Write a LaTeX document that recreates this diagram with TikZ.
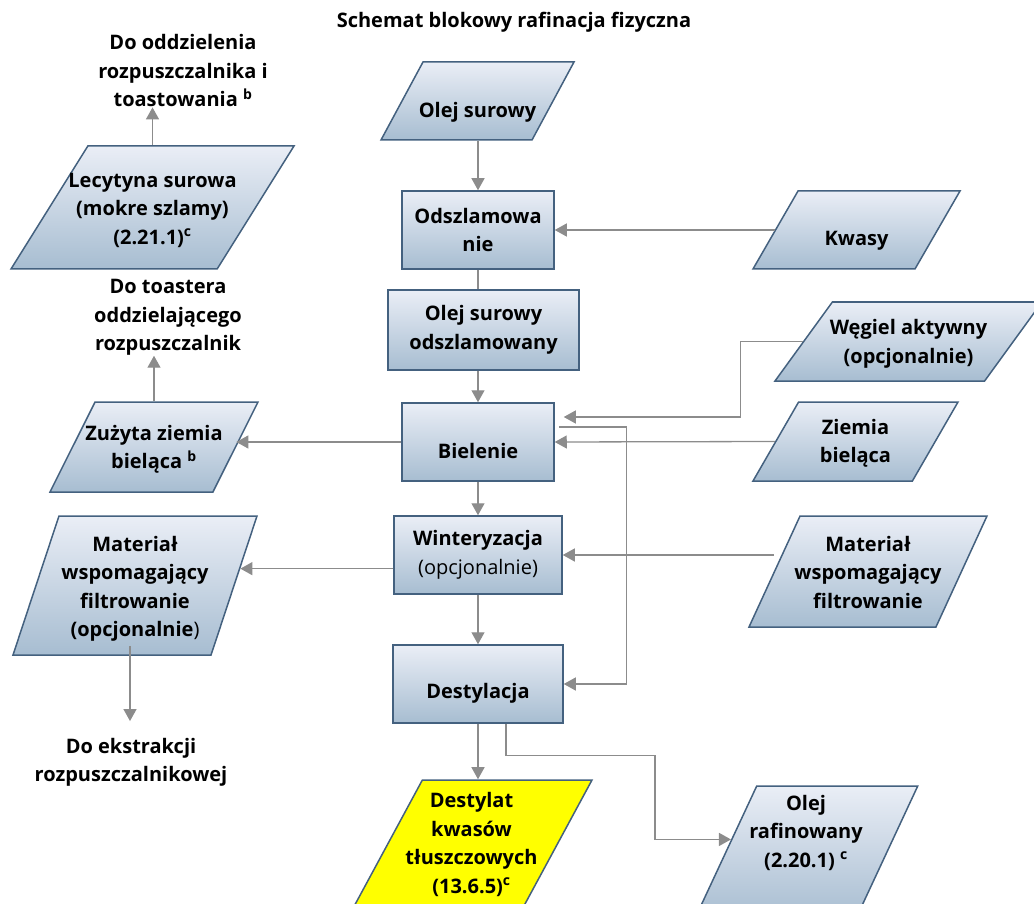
\documentclass[tikz,border=0pt]{standalone}
\usepackage{fontspec}
\setmainfont{Open Sans}
\usepackage{xcolor}
\usepackage{tikz}
\usetikzlibrary{arrows.meta,calc}
\usetikzlibrary{shapes.geometric}

\definecolor{boxTop}{HTML}{EAEEF6}
\definecolor{boxBottom}{HTML}{A7BDD1}
\definecolor{boxLine}{HTML}{44617F}
\definecolor{wire}{HTML}{8C8C8C}

\newcommand{\cellText}[1]{\makebox[0pt]{\begin{tabular}{@{}c@{}}#1\end{tabular}}}

\begin{document}
\begin{tikzpicture}[x=1pt,y=-1pt,
    font=\fontsize{20}{28.5}\selectfont\bfseries,
    box/.style={draw=boxLine,line width=1.5pt,top color=boxTop,bottom color=boxBottom,inner sep=0pt},
    proc/.style={box,rectangle,align=center,minimum width=#1,minimum height=78pt},
    para/.style n args={5}{box,trapezium,trapezium stretches body,trapezium left angle=#1,trapezium right angle=#2,minimum width=#3,
        text height=#4,text depth=#5},
    lbl/.style={align=center,inner sep=0pt},
    link/.style={draw=wire,line width=1.3pt},
    arrow/.style={link,-{Triangle[length=12pt,width=13pt]}}]
    \useasboundingbox (0,0) rectangle (1034,904);

    \node[lbl,font=\fontsize{20}{24}\selectfont\bfseries](title) at (514,22) {Schemat blokowy rafinacja fizyczna};

    % main line
    \node[para={61.7}{118.3}{193pt}{55pt}{23pt}](crudeOil) at (477.5,101) {\cellText{Olej surowy}};
    \node[proc=152pt](degumming) at (478,230) {Odszlamowa\\nie};
    \node[proc=191pt,minimum height=80pt](degummedOil) at (483.5,330) {Olej surowy\\odszlamowany};
    \node[proc=152pt](bleaching) at (478,442) {\raisebox{-9pt}[\height][\depth]{Bielenie}};
    \node[proc=168pt](winterization) at (478,555) {Winteryzacja\\{\mdseries (opcjonalnie)}};
    \node[proc=170pt](distillation) at (478,684) {\raisebox{-9pt}[\height][\depth]{Destylacja}};

    % inputs on the right
    \node[para={60}{120}{207pt}{54pt}{24pt}](acids) at (856.5,230) {\cellText{Kwasy}};
    \node[para={54}{126}{267pt}{46.5pt}{32.5pt}](activeCarbon) at (908.5,341.5) {\cellText{Węgiel aktywny\\(opcjonalnie)}};
    \node[para={60}{120}{205pt}{46pt}{33pt}](bleachEarth) at (855.5,441.5) {\cellText{Ziemia\\bieląca}};
    \node[para={65.3}{114.7}{238pt}{63pt}{48pt}](filterAidIn) at (868,571.5) {\cellText{Materiał\\wspomagający\\filtrowanie}};

    % by-products on the left
    \node[para={58}{122}{283pt}{69pt}{54pt}](crudeLecithin) at (152.5,207.5) {\cellText{Lecytyna surowa\\(mokre szlamy)\\(2.21.1)\textsuperscript{c}}};
    \node[para={63.4}{116.6}{208pt}{52pt}{38pt}](spentEarth) at (154,447) {\cellText{Zużyta ziemia\\bieląca \textsuperscript{b}}};
    \node[para={71.7}{108.3}{244pt}{77.5pt}{61.5pt}](filterAidOut) at (135,585.5) {\cellText{Materiał\\wspomagający\\filtrowanie\\(opcjonalnie{\mdseries )}}};

    \node[lbl](toSolvent) at (183,71) {Do oddzielenia\\rozpuszczalnika i\\toastowania \textsuperscript{b}};
    \node[lbl](toToaster) at (168,317.5) {Do toastera\\oddzielającego\\rozpuszczalnik};
    \node[lbl](toExtraction) at (131,762.5) {Do ekstrakcji\\rozpuszczalnikowej};

    % products
    \node[para={61.6}{118.4}{241pt}{70pt}{62pt},top color=yellow,bottom color=yellow](fattyDistillate) at (471.5,846) {\cellText{Destylat\\kwasów\\tłuszczowych\\(13.6.5)\textsuperscript{c}}};
    \node[para={65}{115}{223.5pt}{52pt}{82pt}](refinedOil) at (806,853) {\cellText{Olej\\rafinowany\\(2.20.1) \textsuperscript{c}}};

    \coordinate (aidEntry) at ($(filterAidOut.top right corner)!0.38!(filterAidOut.bottom right corner)$);
    \coordinate (refinedEntry) at ($(refinedOil.top left corner)!0.4!(refinedOil.bottom left corner)$);

    \draw [arrow] (degumming.north |- crudeOil.south) to (degumming.north);
    \draw [link] (degumming.south) to (degumming.south |- degummedOil.north);
    \draw [arrow] (bleaching.north |- degummedOil.south) to (bleaching.north);
    \draw [arrow] (bleaching.south) to (winterization.north);
    \draw [arrow] (winterization.south) to (distillation.north);

    \draw [arrow] (acids.left side) to (degumming.east);
    \draw [arrow] (activeCarbon.left side) -- ++(-62,0) |- ([shift={(9pt,25pt)}]bleaching.east);
    \draw [arrow] (bleachEarth.left side) to (bleaching.east);
    \draw [arrow] ([shift={(4pt,15pt)}]bleaching.east) -| ([xshift=63pt]distillation.east) -- (distillation.east);
    \draw [arrow] (filterAidIn.left side |- winterization.east) to (winterization.east);

    \draw [arrow] (bleaching.west) to (bleaching.west -| spentEarth.right side);
    \draw [arrow] (winterization.west |- aidEntry) to (aidEntry);
    \draw [arrow] (crudeLecithin.center |- crudeLecithin.north) to (crudeLecithin.center |- toSolvent.south);
    \draw [arrow] (spentEarth.center |- spentEarth.north) to (spentEarth.center |- toToaster.south);
    \draw [arrow] ($(filterAidOut.center |- filterAidOut.south)+(-5,-10)$) to ($(filterAidOut.center |- toExtraction.north)+(-5,-17)$);

    \draw [arrow] (distillation.south) to (distillation.south |- fattyDistillate.north);
    \draw [arrow] ([xshift=28pt]distillation.south) -- ++(0,32) -| ([xshift=-76pt]refinedEntry) -- (refinedEntry);
\end{tikzpicture}
\end{document}
